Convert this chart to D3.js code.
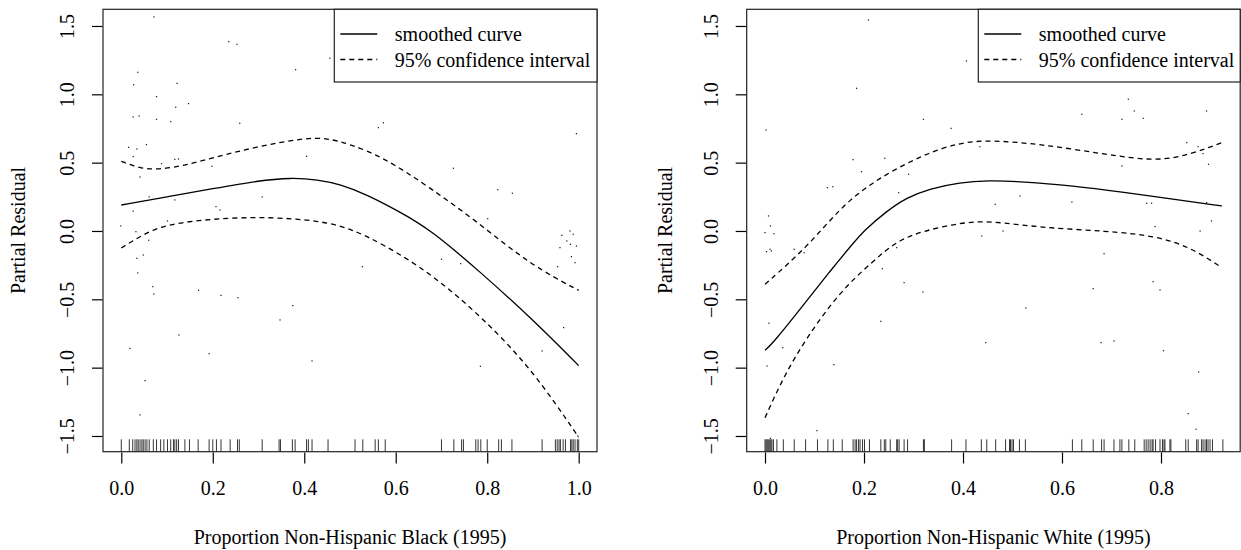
<!DOCTYPE html>
<html>
<head>
<meta charset="utf-8">
<script src="https://cdn.jsdelivr.net/npm/d3@7"></script>
<style>
  html, body { margin: 0; padding: 0; background: #fff; }
  svg { display: block; }
  svg text { font-family: "Liberation Serif", Tinos, "DejaVu Serif", "Noto Serif", "Times New Roman", Times, serif !important; fill: #000; }
</style>
</head>
<body>
<svg id="chart" width="1241" height="550"></svg>
<script>
// ---------- Tick labels ----------
const yTicks = [-1.5, -1.0, -0.5, 0.0, 0.5, 1.0, 1.5];
const xTicksBlack = [0.0, 0.2, 0.4, 0.6, 0.8, 1.0];
const xTicksWhite = [0.0, 0.2, 0.4, 0.6, 0.8];
const legendLabels = ["smoothed curve", "95% confidence interval"];

// ---------- Panel 1: Proportion Non-Hispanic Black ----------
const blackFitX   = [0.00, 0.10, 0.20, 0.30, 0.37, 0.43, 0.478, 0.536, 0.609, 0.675, 0.785, 0.897, 1.00];
const blackFitY   = [0.19, 0.25, 0.31, 0.368, 0.39, 0.376, 0.342, 0.268, 0.14, 0.012, -0.30, -0.64, -0.985];
const blackUpX    = [0.00, 0.04, 0.08, 0.14, 0.20, 0.30, 0.40, 0.45, 0.50, 0.573, 0.675, 0.785, 0.893, 1.00];
const blackUpY    = [0.51, 0.458, 0.448, 0.48, 0.535, 0.62, 0.68, 0.68, 0.635, 0.54, 0.317, 0.05, -0.244, -0.435];
const blackLoX    = [0.00, 0.05, 0.10, 0.20, 0.32, 0.434, 0.50, 0.573, 0.675, 0.79, 0.90, 1.00];
const blackLoY    = [-0.125, -0.02, 0.05, 0.09, 0.104, 0.075, 0.02, -0.098, -0.305, -0.634, -1.02, -1.51];
const blackPtX = [0.0715,0.235,0.253,0.036,0.381,0.027,0.122,0.077,0.147,0.119,0.026,0.039,0.077,0.108,0.259,0.016,0.055,0.034,0.026,0.405,0.088,0.198,0.117,0.125,0.041,0.308,0.061,0.117,0.207,0.216,0.026,0.101,-0.001,0.032,0.060,
  0.456,0.562,0.573,0.995,0.726,0.823,0.855,0.801,0.981,0.988,0.974,0.995,0.963,
  0.034,0.048,0.036,0.069,0.071,0.169,0.218,0.255,0.375,0.347,0.126,0.019,0.192,0.417,0.052,0.041,
  0.527,0.700,0.742,0.959,0.982,0.984,0.992,0.954,0.967,0.920,0.785,0.998];
const blackPtY = [1.566,1.385,1.366,1.161,1.180,1.070,1.080,0.983,0.932,0.905,0.834,0.841,0.817,0.800,0.788,0.612,0.632,0.600,0.544,0.546,0.493,0.473,0.524,0.527,0.395,0.249,0.249,0.227,0.178,0.154,0.146,0.073,0.037,-0.005,-0.068,
  1.264,0.756,0.792,0.712,0.459,0.302,0.276,0.090,0.0,-0.024,-0.073,-0.110,-0.032,
  -0.200,-0.176,-0.307,-0.407,-0.461,-0.434,-0.471,-0.488,-0.546,-0.651,-0.761,-0.859,-0.898,-0.951,-1.095,-1.346,
  -0.261,-0.207,-0.239,-0.122,-0.098,-0.188,-0.232,-0.261,-0.707,-0.878,-0.990,-1.50];
const blackRug = [0.000,0.0175,0.025,0.030,0.034,0.037,0.041,0.045,0.048,0.052,0.056,0.061,0.070,0.077,0.086,0.093,0.101,0.108,0.114,0.117,0.121,0.125,0.139,0.149,0.168,0.192,0.200,0.208,0.218,0.238,0.254,0.258,0.308,0.345,0.348,0.374,0.380,0.405,0.409,0.417,
  0.452,0.511,0.528,0.555,0.562,0.577,0.700,0.727,0.744,0.748,0.775,0.780,0.786,0.800,0.825,0.831,0.854,0.920,0.949,0.953,0.957,0.960,0.966,0.971,0.982,0.985,0.988,0.992,0.997,1.000];

// ---------- Panel 2: Proportion Non-Hispanic White ----------
const whiteFitX = [0.00, 0.017, 0.084, 0.13, 0.178, 0.199, 0.246, 0.286, 0.333, 0.394, 0.45, 0.52, 0.622, 0.72, 0.825, 0.923];
const whiteFitY = [-0.873, -0.817, -0.512, -0.30, -0.09, 0.0, 0.146, 0.244, 0.31, 0.356, 0.37, 0.362, 0.33, 0.285, 0.232, 0.183];
const whiteUpX  = [0.00, 0.084, 0.152, 0.219, 0.319, 0.394, 0.455, 0.556, 0.69, 0.791, 0.859, 0.923];
const whiteUpY  = [-0.39, -0.122, 0.17, 0.366, 0.56, 0.648, 0.665, 0.636, 0.56, 0.508, 0.56, 0.646];
const whiteLoX  = [0.00, 0.037, 0.084, 0.152, 0.219, 0.266, 0.319, 0.394, 0.455, 0.556, 0.69, 0.791, 0.86, 0.923];
const whiteLoY  = [-1.366, -1.07, -0.78, -0.44, -0.22, -0.073, 0.0, 0.06, 0.075, 0.024, 0.0, -0.037, -0.12, -0.268];
const whitePtX = [0.209,0.185,0.002,0.320,0.376,0.178,0.242,0.195,0.290,0.126,0.137,0.270,0.007,0.011,0.000,0.018,0.010,0.059,0.266,
  0.407,0.734,0.746,0.764,0.721,0.640,0.892,0.852,0.875,0.434,0.721,0.885,0.896,0.515,0.465,0.620,0.771,0.781,0.892,0.902,0.481,0.438,0.788,0.879,
  0.003,0.013,0.079,0.237,0.281,0.319,0.008,0.234,0.036,0.004,0.139,0.105,0.011,
  0.685,0.784,0.798,0.663,0.527,0.446,0.679,0.705,0.805,0.876,0.855,0.871];
const whitePtY = [1.544,1.044,0.739,0.817,0.751,0.522,0.532,0.434,0.415,0.317,0.324,0.280,0.110,0.037,-0.012,-0.020,-0.134,-0.134,-0.122,
  1.244,0.964,0.878,0.824,0.817,0.854,0.878,0.646,0.617,0.617,0.476,0.566,0.488,0.256,0.195,0.212,0.203,0.203,0.207,0.073,0.0,-0.037,0.032,0.0,
  -0.151,-0.146,-0.159,-0.276,-0.378,-0.446,-0.675,-0.661,-0.854,-0.988,-0.978,-1.461,-1.517,
  -0.166,-0.371,-0.432,-0.422,-0.563,-0.817,-0.817,-0.805,-0.876,-1.032,-1.337,-1.451];
const whiteRug = [0.000,0.002,0.004,0.006,0.008,0.010,0.012,0.014,0.017,0.024,0.037,0.059,0.082,0.106,0.127,0.138,0.156,0.178,0.182,0.185,0.189,0.192,0.197,0.201,0.211,0.234,0.241,0.244,0.253,0.266,0.268,0.271,0.281,0.288,0.320,0.322,0.377,
  0.406,0.437,0.448,0.466,0.486,0.494,0.496,0.499,0.502,0.514,0.526,0.621,0.640,0.663,0.680,0.685,0.705,0.717,0.721,0.735,0.747,0.766,0.770,0.774,0.778,0.782,0.784,0.789,0.798,0.803,0.806,0.808,0.818,0.820,0.850,0.855,0.872,0.875,0.882,0.885,0.889,0.892,0.895,0.899,0.904,0.925];

const svg = d3.select("#chart");
const FONT = 20;
const SERIF = '"Liberation Serif", Tinos, "DejaVu Serif", "Noto Serif", "Times New Roman", Times, serif';
const yDomain = [-1.615, 1.622];

function zip(xs, ys) { return xs.map((x, i) => [x, ys[i]]); }

function drawPanel(p) {
  const x = d3.scaleLinear().domain(p.xDomain).range([p.left, p.right]);
  const y = d3.scaleLinear().domain(yDomain).range([451.7, 9.3]);
  const g = svg.append("g").style("font-family", SERIF);

  // rug
  g.append("g").selectAll("line").data(p.rug).join("line")
    .attr("x1", d => x(d)).attr("x2", d => x(d))
    .attr("y1", y.range()[0]).attr("y2", y.range()[0] - 12.4)
    .attr("stroke", "#000").attr("stroke-width", 0.8);

  // points
  g.append("g").selectAll("rect").data(zip(p.ptX, p.ptY)).join("rect")
    .attr("x", d => x(d[0]) - 0.6).attr("y", d => y(d[1]) - 0.6)
    .attr("width", 1.2).attr("height", 1.2).attr("fill", "#111");

  const line = d3.line().x(d => x(d[0])).y(d => y(d[1])).curve(d3.curveBasis);
  g.append("path").attr("d", line(zip(p.upX, p.upY)))
    .attr("fill", "none").attr("stroke", "#000").attr("stroke-width", 1.3).attr("stroke-dasharray", "5,4");
  g.append("path").attr("d", line(zip(p.loX, p.loY)))
    .attr("fill", "none").attr("stroke", "#000").attr("stroke-width", 1.3).attr("stroke-dasharray", "5,4");
  g.append("path").attr("d", line(zip(p.fitX, p.fitY)))
    .attr("fill", "none").attr("stroke", "#000").attr("stroke-width", 1.3);

  // box
  g.append("rect").attr("x", p.left).attr("y", 9.3)
    .attr("width", p.right - p.left).attr("height", 451.7 - 9.3)
    .attr("fill", "none").attr("stroke", "#222").attr("stroke-width", 1.2);

  // x axis
  const xAxis = d3.axisBottom(x).tickValues(p.xTicks).tickSize(11).tickFormat(d3.format(".1f"));
  const xg = g.append("g").attr("transform", `translate(0,${452.5})`).call(xAxis)
    .attr("font-family", SERIF).attr("font-size", FONT);
  xg.select(".domain").remove();
  xg.selectAll(".tick line").attr("stroke", "#000").attr("stroke-width", 1.2);
  xg.selectAll(".tick text").attr("dy", null).attr("y", 42.5);

  // y axis
  const yAxis = d3.axisLeft(y).tickValues(yTicks).tickSize(10.5).tickFormat(d3.format(".1f"));
  const yg = g.append("g").attr("transform", `translate(${p.left - 0.5},0)`).call(yAxis)
    .attr("font-family", SERIF).attr("font-size", FONT);
  yg.select(".domain").remove();
  yg.selectAll(".tick line").attr("stroke", "#000").attr("stroke-width", 1.2);
  yg.selectAll(".tick text")
    .attr("x", null).attr("dy", null).attr("text-anchor", "middle")
    .attr("transform", `translate(${p.yLabelX - p.left + 0.5},0) rotate(-90)`);

  // titles
  g.append("text").attr("x", (p.left + p.right) / 2).attr("y", 544)
    .attr("text-anchor", "middle").attr("font-size", FONT).text(p.xTitle);
  g.append("text").attr("transform", `translate(${p.yTitleX},230.5) rotate(-90)`)
    .attr("text-anchor", "middle").attr("font-size", FONT).text("Partial Residual");

  // legend
  const lg = g.append("g");
  lg.append("rect").attr("x", p.legLeft).attr("y", 9.3)
    .attr("width", p.right - p.legLeft).attr("height", 82 - 9.3)
    .attr("fill", "#fff").attr("stroke", "#222").attr("stroke-width", 1.2);
  const rows = [34, 59.5];
  rows.forEach((ry, i) => {
    lg.append("line").attr("x1", p.legLeft + 6).attr("x2", p.legLeft + 43)
      .attr("y1", ry).attr("y2", ry).attr("stroke", "#000").attr("stroke-width", 1.3)
      .attr("stroke-dasharray", i === 1 ? "5,4" : null);
    lg.append("text").attr("x", p.legLeft + 60.5).attr("y", ry + 7)
      .attr("font-size", FONT).text(legendLabels[i]);
  });
}

drawPanel({
  left: 103, right: 597, xDomain: [-0.04, 1.04], xTicks: xTicksBlack,
  fitX: blackFitX, fitY: blackFitY, upX: blackUpX, upY: blackUpY, loX: blackLoX, loY: blackLoY,
  ptX: blackPtX, ptY: blackPtY, rug: blackRug,
  xTitle: "Proportion Non-Hispanic Black (1995)", yLabelX: 74, yTitleX: 25, legLeft: 334.3
});
drawPanel({
  left: 746.7, right: 1240.2, xDomain: [-0.037, 0.96], xTicks: xTicksWhite,
  fitX: whiteFitX, fitY: whiteFitY, upX: whiteUpX, upY: whiteUpY, loX: whiteLoX, loY: whiteLoY,
  ptX: whitePtX, ptY: whitePtY, rug: whiteRug,
  xTitle: "Proportion Non-Hispanic White (1995)", yLabelX: 718.3, yTitleX: 671.5, legLeft: 978.3
});
</script>
</body>
</html>
